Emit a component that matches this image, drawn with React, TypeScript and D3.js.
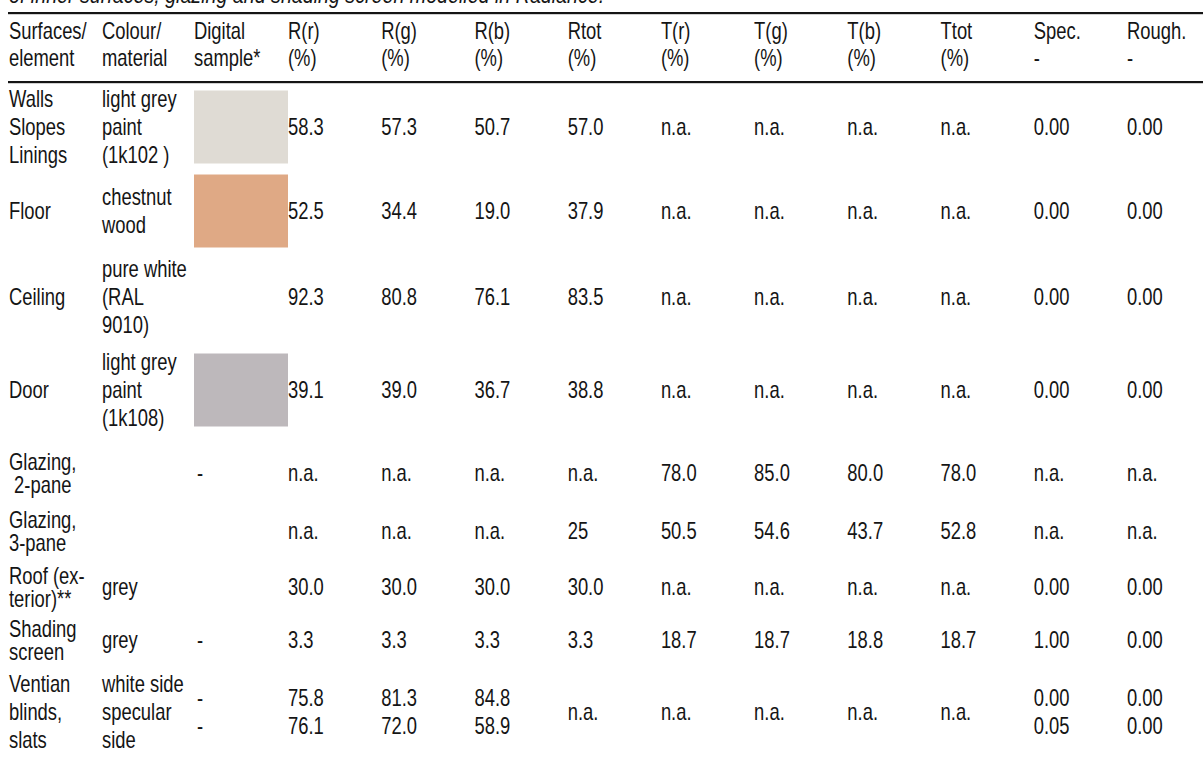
import React from "react";
import * as d3 from "d3";

const W = 1203;
const H = 783;

const titleText = "of inner surfaces, glazing and shading screen modelled in Radiance.";

const headerLine1 = ["Surfaces/", "Colour/", "Digital"];
const headerLine2 = ["element", "material", "sample*"];
const valueColumns = ["R(r)", "R(g)", "R(b)", "Rtot", "T(r)", "T(g)", "T(b)", "Ttot", "Spec.", "Rough."];
const valueUnits = ["(%)", "(%)", "(%)", "(%)", "(%)", "(%)", "(%)", "(%)", "-", "-"];

const elements = [
  ["Walls", "Slopes", "Linings"],
  ["Floor"],
  ["Ceiling"],
  ["Door"],
  ["Glazing,", " 2-pane"],
  ["Glazing,", "3-pane"],
  ["Roof (ex-", "terior)**"],
  ["Shading", "screen"],
  ["Ventian", "blinds,", "slats"],
];

const materials = [
  ["light grey", "paint", "(1k102 )"],
  ["chestnut", "wood"],
  ["pure white", "(RAL", "9010)"],
  ["light grey", "paint", "(1k108)"],
  [],
  [],
  ["grey"],
  ["grey"],
  ["white side", "specular", "side"],
];

const sampleColors = ["#dfdbd4", "#dfa985", "#ffffff", "#bdb8bb", null, null, null, null, null];
const sampleMarks = [[], [], [], [], ["-"], [], [], ["-"], ["-", "-"]];

const colRr = [["58.3"], ["52.5"], ["92.3"], ["39.1"], ["n.a."], ["n.a."], ["30.0"], ["3.3"], ["75.8", "76.1"]];
const colRg = [["57.3"], ["34.4"], ["80.8"], ["39.0"], ["n.a."], ["n.a."], ["30.0"], ["3.3"], ["81.3", "72.0"]];
const colRb = [["50.7"], ["19.0"], ["76.1"], ["36.7"], ["n.a."], ["n.a."], ["30.0"], ["3.3"], ["84.8", "58.9"]];
const colRtot = [["57.0"], ["37.9"], ["83.5"], ["38.8"], ["n.a."], ["25"], ["30.0"], ["3.3"], ["n.a."]];
const colTr = [["n.a."], ["n.a."], ["n.a."], ["n.a."], ["78.0"], ["50.5"], ["n.a."], ["18.7"], ["n.a."]];
const colTg = [["n.a."], ["n.a."], ["n.a."], ["n.a."], ["85.0"], ["54.6"], ["n.a."], ["18.7"], ["n.a."]];
const colTb = [["n.a."], ["n.a."], ["n.a."], ["n.a."], ["80.0"], ["43.7"], ["n.a."], ["18.8"], ["n.a."]];
const colTtot = [["n.a."], ["n.a."], ["n.a."], ["n.a."], ["78.0"], ["52.8"], ["n.a."], ["18.7"], ["n.a."]];
const colSpec = [["0.00"], ["0.00"], ["0.00"], ["0.00"], ["n.a."], ["n.a."], ["0.00"], ["1.00"], ["0.00", "0.05"]];
const colRough = [["0.00"], ["0.00"], ["0.00"], ["0.00"], ["n.a."], ["n.a."], ["0.00"], ["0.00"], ["0.00", "0.00"]];

const valueData = [colRr, colRg, colRb, colRtot, colTr, colTg, colTb, colTtot, colSpec, colRough];

// layout (not data)
const rowCenters = [127, 211, 297, 390, 473, 531, 587, 640, 712];
const rowLineHeights = [28, 28, 28, 28, 23, 23, 23, 23, 28];
const headerCenter = 44.5;
const headerLineHeight = 27;
const swatchHeight = 73;

const FONT = "'Liberation Sans', Arial, sans-serif";
const FS = 23;
const SX = 0.8;
const TITLE_SX = 0.855;
const INK = "#151515";

function Lines({ x, center, lines, lh }: { x: number; center: number; lines: string[]; lh: number }) {
  const n = lines.length;
  return (
    <>
      {lines.map((t, i) => {
        const cy = center + (i - (n - 1) / 2) * lh;
        return (
          <text
            key={i}
            transform={`translate(${x},${cy + FS * 0.36}) scale(${SX},1)`}
            fontFamily={FONT}
            fontSize={FS}
            fill={INK}
            style={{ whiteSpace: "pre" }}
          >
            {t}
          </text>
        );
      })}
    </>
  );
}

export default function App() {
  const xText = d3.scaleOrdinal<string, number>().domain(["element", "material", "sample"]).range([9, 102, 194]);
  const xVal = d3.scalePoint<string>().domain(valueColumns).range([288, 1127]);
  const swatchW = (xVal("R(r)") as number) - xText("sample");

  return (
    <svg width={W} height={H} style={{ position: "absolute", left: 0, top: 0, background: "#fff" }}>
      <rect x={0} y={0} width={W} height={H} fill="#fff" />
      <text
        transform={`translate(9,3) scale(${TITLE_SX},1)`}
        fontFamily={FONT}
        fontSize={FS}
        fontStyle="italic"
        fill={INK}
      >
        {titleText}
      </text>
      <rect x={8} y={12} width={W} height={2.2} fill={INK} />
      <rect x={8} y={81} width={W} height={2.2} fill={INK} />

      {/* header */}
      {["element", "material", "sample"].map((k, i) => (
        <Lines key={k} x={xText(k)} center={headerCenter} lines={[headerLine1[i], headerLine2[i]]} lh={headerLineHeight} />
      ))}
      {valueColumns.map((c, i) => (
        <Lines key={c} x={xVal(c) as number} center={headerCenter} lines={[c, valueUnits[i]]} lh={headerLineHeight} />
      ))}

      {/* rows */}
      {elements.map((el, r) => {
        const cy = rowCenters[r];
        const lh = rowLineHeights[r];
        const col = sampleColors[r];
        return (
          <g key={r}>
            {col && (
              <rect x={xText("sample")} y={cy - swatchHeight / 2} width={swatchW} height={swatchHeight} fill={col} />
            )}
            <Lines x={xText("element")} center={cy} lines={el} lh={lh} />
            <Lines x={xText("material")} center={cy} lines={materials[r]} lh={lh} />
            <Lines x={xText("sample") + 3} center={cy} lines={sampleMarks[r]} lh={lh} />
            {valueColumns.map((c, ci) => (
              <Lines key={c} x={xVal(c) as number} center={cy} lines={valueData[ci][r]} lh={lh} />
            ))}
          </g>
        );
      })}
    </svg>
  );
}
